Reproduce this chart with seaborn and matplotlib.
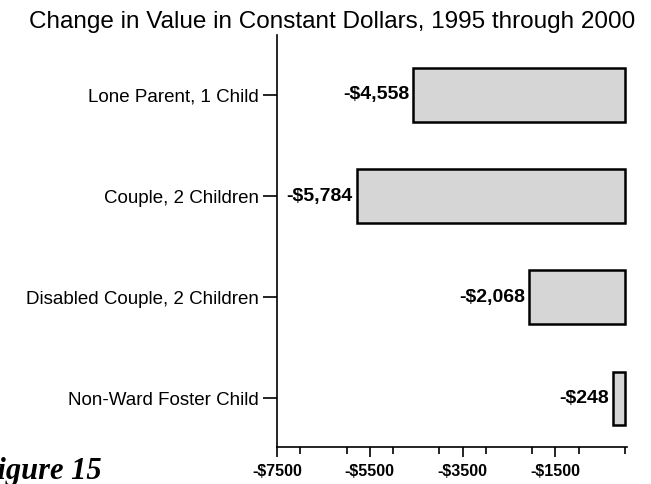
import matplotlib
matplotlib.use("Agg")
import matplotlib.pyplot as plt
import seaborn as sns
import pandas as pd
from matplotlib.ticker import FixedLocator, MultipleLocator

categories = ["Lone Parent, 1 Child", "Couple, 2 Children",
              "Disabled Couple, 2 Children", "Non-Ward Foster Child"]
values = [-4558, -5784, -2068, -248]
value_labels = ["-$4,558", "-$5,784", "-$2,068", "-$248"]
x_ticks = [-7500, -5500, -3500, -1500]
x_tick_labels = ["-$7500", "-$5500", "-$3500", "-$1500"]
title = "Change in Value in Constant Dollars, 1995 through 2000"

df = pd.DataFrame({"category": categories, "value": values})

sns.set_style("ticks")
plt.rcParams["font.family"] = ["Liberation Sans", "DejaVu Sans"]
for k in ["text.color", "axes.labelcolor", "xtick.color", "ytick.color",
          "axes.edgecolor"]:
    plt.rcParams[k] = "black"

fig = plt.figure(figsize=(6.51, 4.84), dpi=100)
ax = fig.add_axes([277/651, 1-447/484, (627-277)/651, (447-35)/484])

sns.barplot(data=df, x="value", y="category", orient="h", ax=ax,
            color="#d6d6d6", edgecolor="black", linewidth=1.8,
            width=0.53, saturation=1)
for p in ax.patches:
    p.set_clip_on(False)

ax.set_xlim(-7500, 45)
ax.set_ylim(3.48, -0.593)
ax.xaxis.set_major_locator(FixedLocator(x_ticks))
ax.xaxis.set_minor_locator(MultipleLocator(1000))
ax.set_xticklabels(x_tick_labels, fontsize=11.5, fontweight="bold")
ax.tick_params(axis="x", which="major", length=7, width=1.2, pad=5)
ax.tick_params(axis="x", which="minor", length=5, width=1.2)
ax.tick_params(axis="y", length=10, width=1.2, labelsize=13.5, pad=3)

for side in ["top", "right"]:
    ax.spines[side].set_visible(False)
ax.spines["left"].set_linewidth(1.2)
ax.spines["bottom"].set_linewidth(1.2)
ax.set_xlabel("")
ax.set_ylabel("")

ax.bar_label(ax.containers[0], labels=value_labels, padding=3,
             fontsize=14, fontweight="bold")

fig.text(0.5 + 7/651, 1-22/484, title, ha="center", va="center", fontsize=17.5)
fig.text(-0.035, 1-479/484, "Figure 15", ha="left", va="baseline",
         fontsize=22, fontweight="bold", fontstyle="italic",
         family=["Liberation Serif", "DejaVu Serif"])

fig.savefig("out.png", dpi=100)
